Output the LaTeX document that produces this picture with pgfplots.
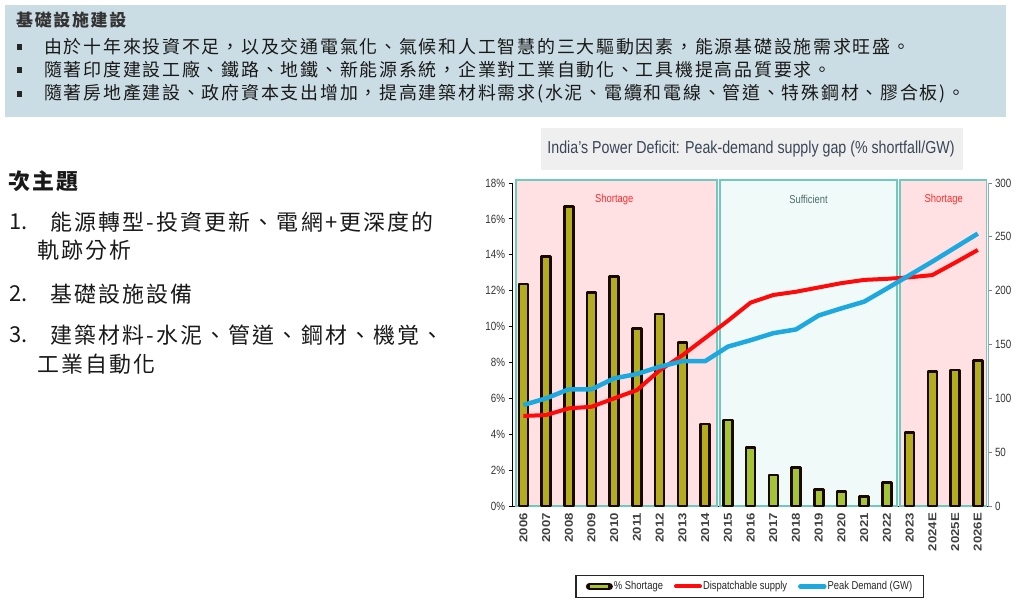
\documentclass[border=0pt]{standalone}
\usepackage{fontspec}
\usepackage{pgfplots}
\pgfplotsset{compat=1.18}
\setmainfont{Liberation Sans}
\newfontfamily\cjk{Noto Sans CJK TC}
\newfontfamily\cjkls{Noto Sans CJK TC}[LetterSpace=10]
\newfontfamily\narrow{Liberation Sans}[FakeStretch=0.82]
\newfontfamily\wide{Liberation Sans}[FakeStretch=1.15]

\definecolor{hdrbg}{HTML}{CBDDE4}
\definecolor{pinkbg}{HTML}{FFE1E3}
\definecolor{cyanbg}{HTML}{F0FAF9}
\definecolor{tealbd}{HTML}{6FCABD}
\definecolor{olive}{HTML}{B3AC1E}
\definecolor{ygreen}{HTML}{A3C435}
\definecolor{barbd}{HTML}{1A0800}
\definecolor{supred}{HTML}{FF0A0A}
\definecolor{demblue}{HTML}{1EA8E0}
\definecolor{titlebg}{HTML}{EFEFEF}
\definecolor{titlefg}{HTML}{3A4656}
\definecolor{shortred}{HTML}{FF2D2D}
\definecolor{sufftxt}{HTML}{4B6E6B}

\begin{document}
\begin{tikzpicture}[x=1bp,y=1bp]
\useasboundingbox (0,0) rectangle (1024,-611);

% header box
\fill[hdrbg] (5,-5) rectangle (1006,-117);
\node[anchor=west,inner sep=0,text=black!80,font=\cjkls\bfseries\fontsize{17}{20}\selectfont] at (16,-20) {基礎設施建設};
\foreach \yy in {-47,-70,-94} \fill[black!85] (16.5,\yy+2.8) rectangle (22,\yy-2.8);
\begin{scope}[every node/.style={anchor=west,inner sep=0,text=black!90,font=\cjkls\fontsize{18}{22}\selectfont}]
\node at (44,-47) {由於十年來投資不足，以及交通電氣化、氣候和人工智慧的三大驅動因素，能源基礎設施需求旺盛。};
\node at (44,-70) {隨著印度建設工廠、鐵路、地鐵、新能源系統，企業對工業自動化、工具機提高品質要求。};
\node at (44,-94) {隨著房地產建設、政府資本支出增加，提高建築材料需求(水泥、電纜和電線、管道、特殊鋼材、膠合板)。};
\end{scope}

% left text
\begin{scope}[every node/.style={anchor=west,inner sep=0,text=black!90,font=\cjkls\fontsize{22}{26}\selectfont}]
\node[font=\cjkls\bfseries\fontsize{22}{26}\selectfont] at (8,-181) {次主題};
\node[font=\cjk\fontsize{22}{26}\selectfont] at (9,-222) {1.};
\node at (50,-222) {能源轉型-投資更新、電網+更深度的};
\node at (37,-250) {軌跡分析};
\node[font=\cjk\fontsize{22}{26}\selectfont] at (9,-294) {2.};
\node at (50,-294) {基礎設施設備};
\node[font=\cjk\fontsize{22}{26}\selectfont] at (9,-335) {3.};
\node at (50,-335) {建築材料-水泥、管道、鋼材、機覚、};
\node at (37,-364) {工業自動化};
\end{scope}

% chart title
\fill[titlebg] (541,-128) rectangle (963,-170);
\node[inner sep=0,text=titlefg,font=\narrow\fontsize{17.4}{20}\selectfont] at (751,-149) {India’s Power Deficit: Peak-demand supply gap (\% shortfall/GW)};

\begin{axis}[
  at={(512bp,-506bp)}, anchor=south west,
  scale only axis, width=476bp, height=323bp,
  xmin=-0.5, xmax=20.45, ymin=0, ymax=18,
  clip=false,
  axis y line*=left, axis x line*=bottom,
  axis line style={black, line width=0.9bp},
  tick align=outside,
  /pgf/number format/assume math mode=true,
  ytick={0,2,...,18},
  yticklabel={\pgfmathprintnumber{\tick}\%},
  yticklabel style={font=\narrow\fontsize{12}{14}\selectfont, text=black!80},
  ytick style={black, line width=0.8bp},
  major tick length=3.5bp,
  xtick={0,...,20},
  xticklabels={2006,2007,2008,2009,2010,2011,2012,2013,2014,2015,2016,2017,2018,2019,2020,2021,2022,2023,2024E,2025E,2026E},
  xtick style={draw=none},
  minor xtick={-0.5,0.5,...,20.5},
  minor tick length=3bp,
  minor x tick style={black, line width=0.8bp},
  xticklabel style={rotate=90, anchor=east, font=\wide\bfseries\fontsize{11.5}{13}\selectfont, text=black!75},
]
\draw[fill=pinkbg, draw=tealbd, line width=1.5bp] (axis cs:-0.32,0) rectangle (axis cs:8.52,18.17);
\draw[fill=cyanbg, draw=tealbd, line width=1.5bp] (axis cs:8.65,0) rectangle (axis cs:16.45,18.17);
\draw[fill=pinkbg, draw=tealbd, line width=1.5bp] (axis cs:16.58,0) rectangle (axis cs:20.38,18.17);
\node[text=shortred, font=\narrow\fontsize{11.5}{13}\selectfont] at (axis cs:4,17.1) {Shortage};
\node[text=sufftxt, font=\narrow\fontsize{11.5}{13}\selectfont] at (axis cs:12.55,17.1) {Sufficient};
\node[text=shortred, font=\narrow\fontsize{11.5}{13}\selectfont] at (axis cs:18.5,17.1) {Shortage};

\addplot[ybar, bar width=9bp, bar shift=0pt, fill=olive, draw=barbd, line width=2.6bp, line join=round]
  coordinates {(0,12.37)(1,13.9)(2,16.7)(3,11.9)(4,12.8)(5,9.9)(6,10.7)(7,9.1)(8,4.57)
               (17,4.1)(18,7.49)(19,7.58)(20,8.1)};
\addplot[ybar, bar width=9bp, bar shift=0pt, fill=ygreen, draw=barbd, line width=2.6bp, line join=round]
  coordinates {(9,4.8)(10,3.27)(11,1.73)(12,2.13)(13,0.93)(14,0.8)(15,0.52)(16,1.32)};
\end{axis}

\begin{axis}[
  at={(512bp,-506bp)}, anchor=south west,
  scale only axis, width=476bp, height=323bp,
  xmin=-0.5, xmax=20.45, ymin=0, ymax=300,
  axis x line=none, axis y line*=right,
  y axis line style={draw=black!35, line width=0.9bp},
  tick align=outside,
  /pgf/number format/assume math mode=true,
  ytick={0,50,...,300},
  ytick style={draw=black!50, line width=0.8bp},
  major tick length=3.5bp,
  yticklabel style={font=\narrow\fontsize{12}{14}\selectfont, text=black!80},
  legend image code/.code={\draw[#1, line cap=round] (0bp,0bp) -- (24bp,0bp);},
  legend columns=3,
  legend style={at={(0.499,-0.249)}, anchor=center, draw=black!85, line width=1.2bp,
    inner xsep=10bp, inner ysep=5bp,
    font=\narrow\fontsize{11.5}{13}\selectfont, text=black!85,
    nodes={inner sep=1bp, anchor=west},
    /tikz/every even column/.append style={column sep=10bp}},
]
\addlegendimage{legend image code/.code={
  \draw[barbd, line width=7bp, line cap=round] (2bp,0bp) -- (22bp,0bp);
  \draw[ygreen, line width=2.5bp] (3bp,0bp) -- (21bp,0bp);}}
\addlegendentry{\% Shortage}
\addplot[supred, line width=4bp, line join=round]
  coordinates {(0,83.6)(1,84.5)(2,90.7)(3,92.2)(4,100)(5,107.7)(6,126)(7,140)(8,156)(9,172)
               (10,188.9)(11,196)(12,199)(13,203)(14,207)(15,210)(16,211)(17,212.4)(18,214.5)(19,226)(20,237.8)};
\addlegendentry{Dispatchable supply}
\addplot[demblue, line width=4.5bp, line join=round]
  coordinates {(0,93.8)(1,100)(2,108.4)(3,108.4)(4,118.6)(5,122.6)(6,129.4)(7,134.5)(8,134.5)(9,148)
               (10,154)(11,160.5)(12,164)(13,177)(14,183.6)(15,189.8)(16,202)(17,214.5)(18,227)(19,240)(20,253)};
\addlegendentry{Peak Demand (GW)}
\end{axis}
\end{tikzpicture}
\end{document}
